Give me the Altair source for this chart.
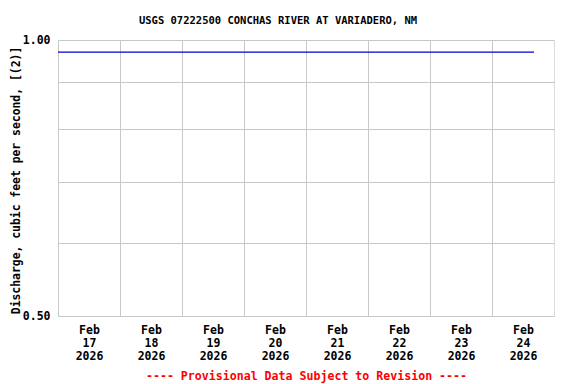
import altair as alt
import pandas as pd

# Data
times = [
    "2026-02-17T00:00:00Z", "2026-02-18T00:00:00Z", "2026-02-19T00:00:00Z",
    "2026-02-20T00:00:00Z", "2026-02-21T00:00:00Z", "2026-02-22T00:00:00Z",
    "2026-02-23T00:00:00Z", "2026-02-24T00:00:00Z", "2026-02-24T16:15:00Z",
]
discharge = [0.97, 0.97, 0.97, 0.97, 0.97, 0.97, 0.97, 0.97, 0.97]

day_ticks = ["2026-02-17", "2026-02-18", "2026-02-19", "2026-02-20",
             "2026-02-21", "2026-02-22", "2026-02-23", "2026-02-24"]
y_grid = [0.5, 0.6, 0.7, 0.8, 0.9, 1.0]

title_text = "USGS 07222500 CONCHAS RIVER AT VARIADERO, NM"
y_title = "Discharge, cubic feet per second, [(2)]"
x_title = "---- Provisional Data Subject to Revision ----"

df = pd.DataFrame({"time": times, "discharge": discharge})

FONT = "DejaVu Sans Mono"

def dt(s):
    y, m, d = (int(v) for v in s.split("-"))
    return alt.DateTime(year=y, month=m, date=d, utc=True)

x_axis = alt.Axis(
    values=[dt(s) for s in day_ticks],
    labelExpr="[utcFormat(datum.value, '%b'), utcFormat(datum.value, '%d'), utcFormat(datum.value, '%Y')]",
    labelOffset=31,
    labelFlush=False,
    labelOverlap=False,
    labelBound=False,
    labelFont=FONT,
    labelFontWeight="bold",
    labelFontSize=11.5,
    labelColor="black",
    labelLineHeight=13,
    labelPadding=8,
    labelBaseline="top",
    ticks=False,
    domain=False,
    grid=True,
    gridColor="#c8c8c8",
    gridWidth=1,
    title=x_title,
    titleColor="#ff0000",
    titleFont=FONT,
    titleFontWeight="bold",
    titleFontSize=11.6,
    titleX=248,
    titleY=63,
    titleBaseline="alphabetic",
    titleAlign="center",
)

y_axis = alt.Axis(
    values=y_grid,
    labelExpr="(datum.value == 0.5 || datum.value == 1) ? format(datum.value, '.2f') : ''",
    labelOverlap=False,
    labelFont=FONT,
    labelFontWeight="bold",
    labelFontSize=11.5,
    labelColor="black",
    labelPadding=8,
    ticks=False,
    domain=False,
    grid=True,
    gridColor="#c8c8c8",
    gridWidth=1,
    title=y_title,
    titleFont=FONT,
    titleFontWeight="bold",
    titleFontSize=11.4,
    titleColor="black",
    titleX=-37,
    titleY=140,
    titleAngle=270,
    titleAlign="center",
    titleBaseline="bottom",
)

chart = (
    alt.Chart(df)
    .mark_line(color="#0000cc", strokeWidth=1.2, clip=True)
    .encode(
        x=alt.X("time:T",
                scale=alt.Scale(type="utc",
                                domain=[dt("2026-02-17"), dt("2026-02-25")]),
                axis=x_axis),
        y=alt.Y("discharge:Q",
                scale=alt.Scale(type="log", domain=[0.5, 1.0]),
                axis=y_axis),
    )
    .properties(
        width=496,
        height=276,
        title=alt.TitleParams(
            text=title_text,
            font=FONT,
            fontWeight="bold",
            fontSize=10.5,
            color="black",
            anchor="middle",
            dx=-28,
            offset=8,
        ),
        autosize=alt.AutoSizeParams(type="none"),
        padding={"left": 50, "top": 32, "right": 14, "bottom": 68},
    )
    .configure_view(stroke="black", strokeWidth=1.5)
    .configure(background="white")
)

chart.save("out.html", embed_options={"renderer": "svg", "actions": False})
